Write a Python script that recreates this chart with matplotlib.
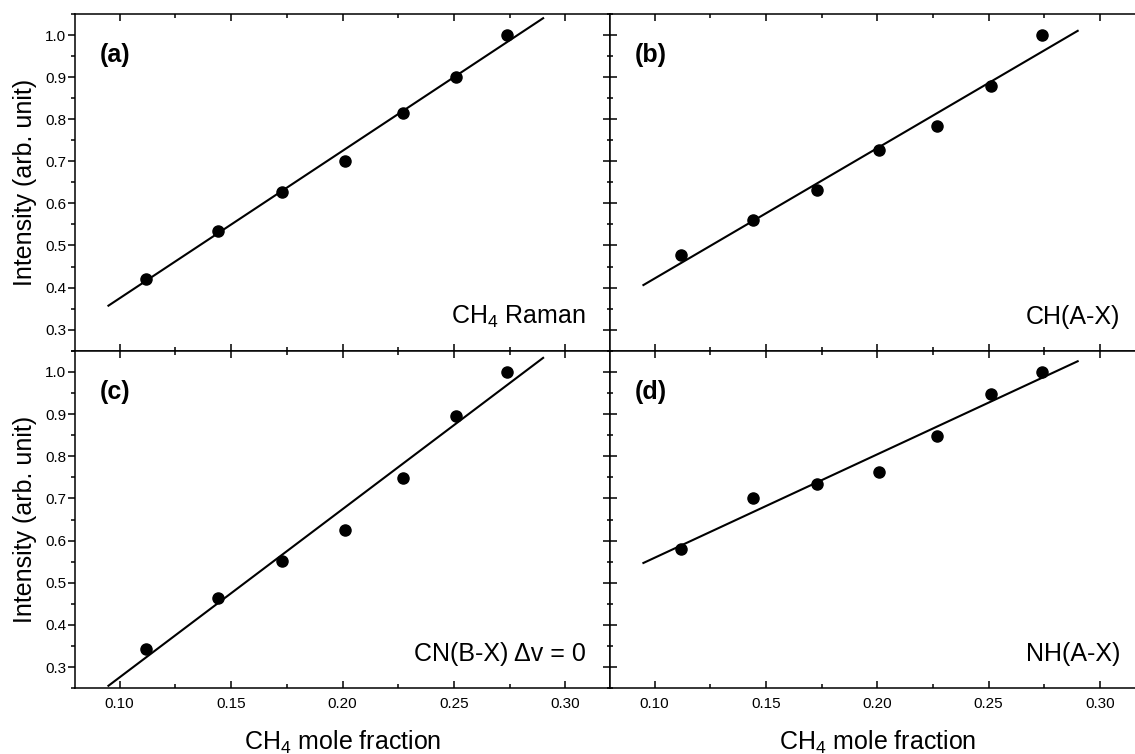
import numpy as np
import matplotlib
matplotlib.use("Agg")
import matplotlib.pyplot as plt
from matplotlib.ticker import MultipleLocator, FormatStrFormatter

plt.rcParams['font.family'] = ['Liberation Sans', 'DejaVu Sans']
plt.rcParams['mathtext.fontset'] = 'custom'
plt.rcParams['mathtext.rm'] = 'Liberation Sans'
plt.rcParams['mathtext.it'] = 'Liberation Sans:italic'
plt.rcParams['mathtext.bf'] = 'Liberation Sans:bold'
plt.rcParams['mathtext.default'] = 'regular'

# === Dados ===
ch4_fraction = [0.112, 0.144, 0.173, 0.201, 0.227, 0.251, 0.274]

raman_ch4 = [0.421, 0.535, 0.626, 0.701, 0.814, 0.900, 1.000]
ch_ax = [0.477, 0.560, 0.631, 0.727, 0.784, 0.879, 1.000]
cn_bx = [0.343, 0.463, 0.551, 0.626, 0.749, 0.895, 1.000]
nh_ax = [0.579, 0.702, 0.733, 0.762, 0.849, 0.947, 1.000]

# extremos das retas de ajuste
fit_x = [0.095, 0.29]
fit_raman = [0.357, 1.040]
fit_ch = [0.406, 1.010]
fit_cn = [0.256, 1.033]
fit_nh = [0.547, 1.025]

panel_tags = ['(a)', '(b)', '(c)', '(d)']
species = ['CH$_4$ Raman', 'CH(A-X)', 'CN(B-X) \u0394v = 0', 'NH(A-X)']

# === Figura ===
W, H = 1135, 754
fig = plt.figure(figsize=(W / 100, H / 100), dpi=100)

def box(x0, y0, x1, y1):
    # pixels (origem no topo) -> fração da figura
    return [x0 / W, 1 - y1 / H, (x1 - x0) / W, (y1 - y0) / H]

axes = [
    fig.add_axes(box(75, 14, 610, 350.7)),
    fig.add_axes(box(610, 14, 1144.5, 350.7)),
    fig.add_axes(box(75, 350.7, 610, 688.3)),
    fig.add_axes(box(610, 350.7, 1144.5, 688.3)),
]

series = [raman_ch4, ch_ax, cn_bx, nh_ax]
fits = [fit_raman, fit_ch, fit_cn, fit_nh]

for i, ax in enumerate(axes):
    ax.plot(fit_x, fits[i], color='black', lw=1.5, zorder=2)
    ax.plot(ch4_fraction, series[i], 'o', color='black', ms=8, zorder=3)

    ax.set_xlim(0.08, 0.32)
    ax.set_ylim(0.25, 1.05)
    ax.xaxis.set_major_locator(MultipleLocator(0.05))
    ax.xaxis.set_minor_locator(MultipleLocator(0.025))
    ax.yaxis.set_major_locator(MultipleLocator(0.1))
    ax.yaxis.set_minor_locator(MultipleLocator(0.05))
    ax.xaxis.set_major_formatter(FormatStrFormatter('%.2f'))
    ax.yaxis.set_major_formatter(FormatStrFormatter('%.1f'))

    for sp in ax.spines.values():
        sp.set_linewidth(1.1)

    bottom_row = i >= 2
    left_col = i % 2 == 0

    ax.tick_params(axis='x', which='both', direction='in', top=True, bottom=True,
                   labelbottom=bottom_row, labelsize=11, width=1.1, pad=6)
    ax.tick_params(axis='x', which='major', length=4.7)
    ax.tick_params(axis='x', which='minor', length=2.6)

    if left_col:
        ax.tick_params(axis='y', which='both', direction='out', left=True, right=False,
                       labelleft=True, labelsize=11, width=1.1, pad=1.5)
        ax.tick_params(axis='y', which='major', length=4.8)
        ax.tick_params(axis='y', which='minor', length=3.0)
        ax.set_ylabel('Intensity (arb. unit)', fontsize=18, labelpad=6)
    else:
        ax.tick_params(axis='y', which='both', direction='inout', left=True, right=False,
                       labelleft=False, width=1.1)
        ax.tick_params(axis='y', which='major', length=10)
        ax.tick_params(axis='y', which='minor', length=5)

    if bottom_row:
        ax.set_xlabel('CH$_4$ mole fraction', fontsize=18, labelpad=13)

    ax.text(0.047, 0.878, panel_tags[i], transform=ax.transAxes, fontsize=18,
            fontweight='bold', ha='left', va='center')
    ax.text(0.955, 0.08, species[i], transform=ax.transAxes, fontsize=18,
            ha='right', va='baseline')

fig.savefig('out.png', dpi=100)
